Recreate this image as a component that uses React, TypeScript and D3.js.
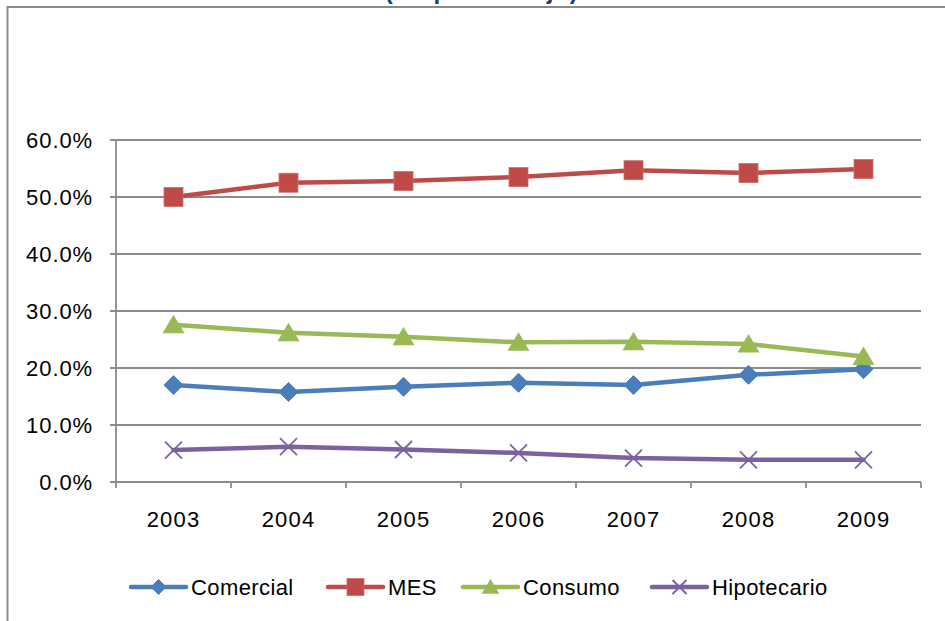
import React from "react";
import * as d3 from "d3";

const years = ["2003", "2004", "2005", "2006", "2007", "2008", "2009"];
const comercial = [17.0, 15.8, 16.7, 17.4, 17.0, 18.8, 19.8];
const mes = [50.0, 52.5, 52.8, 53.5, 54.7, 54.2, 54.9];
const consumo = [27.6, 26.2, 25.5, 24.5, 24.6, 24.2, 22.0];
const hipotecario = [5.6, 6.2, 5.7, 5.1, 4.2, 3.9, 3.9];
const yTicks = [0, 10, 20, 30, 40, 50, 60];
const seriesNames = ["Comercial", "MES", "Consumo", "Hipotecario"];
const titleText = "(en porcentaje)";

const colors = ["#4A7EBB", "#BE4B48", "#98B954", "#7D60A0"];
const markerTypes = ["diamond", "square", "triangle", "x"];

const W = 945;
const H = 621;
const left = 116;
const right = 921;
const top = 140;
const bottom = 482;

function Marker({ type, cx, cy, color, s }: { type: string; cx: number; cy: number; color: string; s: number }) {
  if (type === "diamond") {
    const r = s / 2;
    return <path d={`M${cx},${cy - r}L${cx + r},${cy}L${cx},${cy + r}L${cx - r},${cy}Z`} fill={color} stroke={color} strokeWidth={1} />;
  }
  if (type === "square") {
    const r = s / 2;
    return <rect x={cx - r} y={cy - r} width={s} height={s} fill={color} stroke="#c96f6c" strokeWidth={0.8} />;
  }
  if (type === "triangle") {
    const r = s / 2;
    return <path d={`M${cx},${cy - r}L${cx + r * 1.1},${cy + r * 0.85}L${cx - r * 1.1},${cy + r * 0.85}Z`} fill={color} />;
  }
  const r = s / 2;
  return (
    <g stroke={color} strokeWidth={1.8}>
      <line x1={cx - r} y1={cy - r} x2={cx + r} y2={cy + r} />
      <line x1={cx - r} y1={cy + r} x2={cx + r} y2={cy - r} />
    </g>
  );
}

export default function App() {
  const x = d3.scaleBand<string>().domain(years).range([left, right]).padding(0);
  const y = d3.scaleLinear().domain([0, 60]).range([bottom, top]);
  const allSeries = [comercial, mes, consumo, hipotecario];
  const line = d3
    .line<number>()
    .x((_, i) => (x(years[i]) as number) + x.bandwidth() / 2)
    .y((d) => y(d));
  const boundaries = years.map((yr) => x(yr) as number).concat([right]);
  const legendX = [131, 328, 463, 652];
  const legendY = 587;
  const markerSizes = [19, 19, 20, 17];
  const legendMarkerSizes = [15, 17, 16, 14];

  return (
    <svg width={W} height={H} style={{ position: "absolute", left: 0, top: 0, background: "#fff" }}>
      <rect x={0} y={0} width={W} height={H} fill="#fff" />
      {/* outer frame */}
      <path d={`M7.5,${H + 5}L7.5,7L${W + 5},7`} fill="none" stroke="#8a8a8a" strokeWidth={2} />
      <text x={482} y={-1} textAnchor="middle" fontFamily="Liberation Sans, Arial, sans-serif" fontWeight="bold" fontSize={24} fill="#1F3F6E" letterSpacing={1.5}>
        {titleText}
      </text>
      {/* gridlines */}
      {yTicks.map((t) => (
        <line key={t} x1={left - 6} x2={right} y1={y(t)} y2={y(t)} stroke="#8c8c8c" strokeWidth={1.8} />
      ))}
      {/* y axis */}
      <line x1={left} x2={left} y1={top} y2={bottom} stroke="#8c8c8c" strokeWidth={1.8} />
      {/* x ticks */}
      {boundaries.map((b, i) => (
        <line key={i} x1={b} x2={b} y1={bottom} y2={bottom + 6} stroke="#8c8c8c" strokeWidth={1.8} />
      ))}
      {yTicks.map((t) => (
        <text key={t} x={93} y={y(t) + 8} textAnchor="end" fontFamily="Liberation Sans, Arial, sans-serif" fontSize={22} letterSpacing={0.9} fill="#000">
          {t.toFixed(1) + "%"}
        </text>
      ))}
      {years.map((yr) => (
        <text key={yr} x={(x(yr) as number) + x.bandwidth() / 2} y={527} textAnchor="middle" fontFamily="Liberation Sans, Arial, sans-serif" fontSize={22} letterSpacing={1.2} fill="#000">
          {yr}
        </text>
      ))}
      {allSeries.map((s, si) => (
        <path key={si} d={line(s) as string} fill="none" stroke={colors[si]} strokeWidth={4.5} strokeLinejoin="round" strokeLinecap="round" />
      ))}
      {allSeries.map((s, si) =>
        s.map((v, i) => (
          <Marker key={si + "-" + i} type={markerTypes[si]} cx={(x(years[i]) as number) + x.bandwidth() / 2} cy={y(v)} color={colors[si]} s={markerSizes[si]} />
        ))
      )}
      {/* legend */}
      {seriesNames.map((n, i) => (
        <g key={n}>
          <line x1={legendX[i]} x2={legendX[i] + 55} y1={legendY} y2={legendY} stroke={colors[i]} strokeWidth={4.5} strokeLinecap="round" />
          <Marker type={markerTypes[i]} cx={legendX[i] + 27.5} cy={legendY} color={colors[i]} s={legendMarkerSizes[i]} />
          <text x={legendX[i] + 60} y={legendY + 8} fontFamily="Liberation Sans, Arial, sans-serif" fontSize={22} letterSpacing={0.4} fill="#000">
            {n}
          </text>
        </g>
      ))}
    </svg>
  );
}
